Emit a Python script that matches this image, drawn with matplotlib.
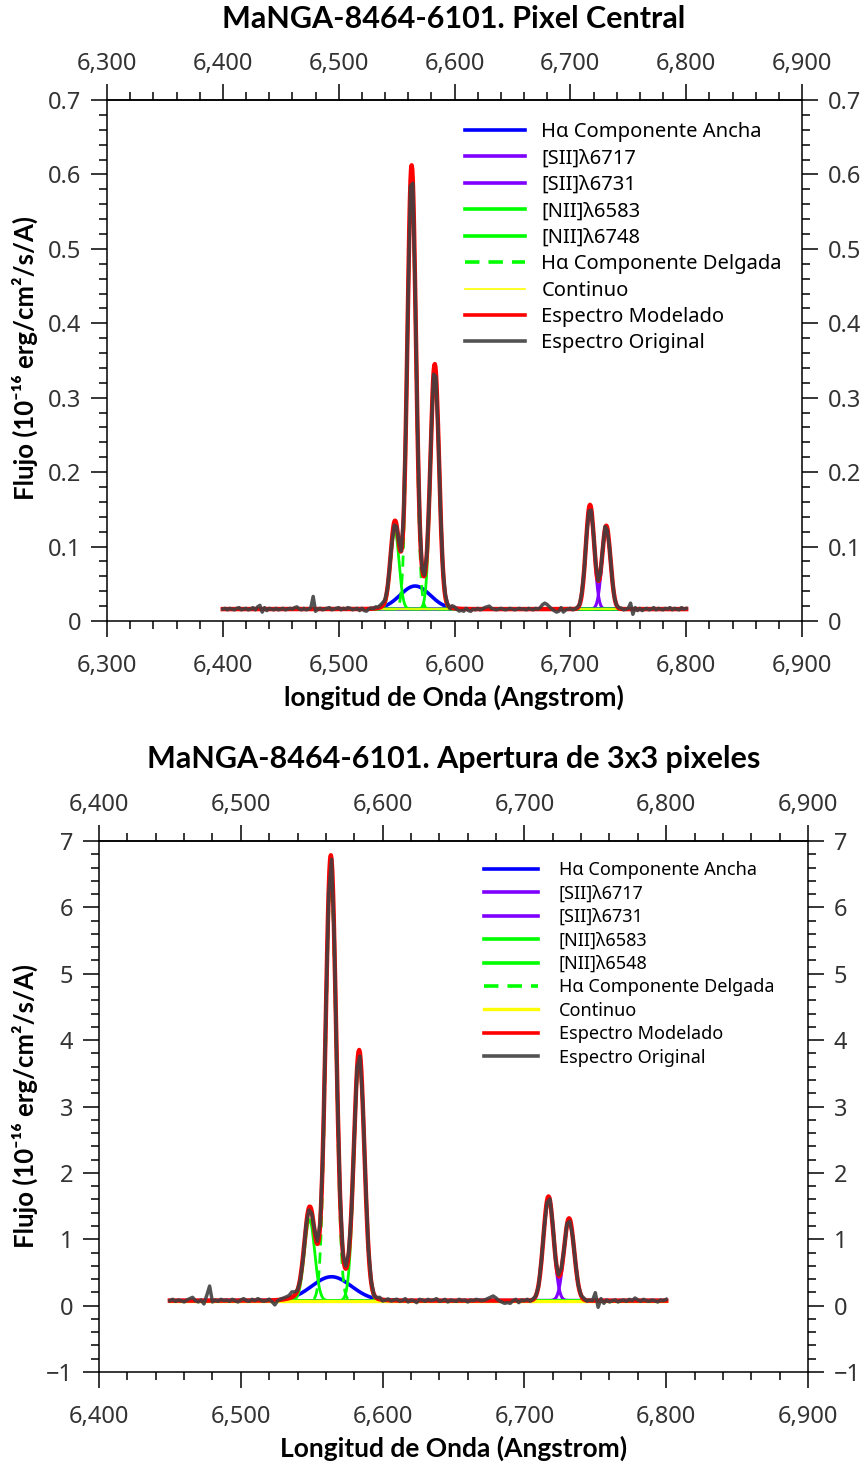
import numpy as np
import matplotlib
matplotlib.use("Agg")
import matplotlib.pyplot as plt
from matplotlib.ticker import FixedLocator, MultipleLocator, FuncFormatter

plt.rcParams['font.family'] = ['Noto Sans', 'DejaVu Sans']
plt.rcParams['axes.unicode_minus'] = True
BOLD_FAMILY = ['Lato', 'DejaVu Sans']

# ---------------- fitted line parameters ----------------
# order: broad Halpha, [SII]6717, [SII]6731, [NII]6583, [NII]6548, narrow Halpha
top_centres = [6566.0, 6717.0, 6731.0, 6583.0, 6548.5, 6563.0]
top_amps = [0.031, 0.140, 0.112, 0.316, 0.106, 0.566]
top_sigmas = [13.0, 3.6, 3.6, 3.6, 3.6, 3.6]
top_continuum = 0.016
top_range = [6400, 6800]

bot_centres = [6564.0, 6717.0, 6731.5, 6583.5, 6548.5, 6563.5]
bot_amps = [0.36, 1.57, 1.24, 3.64, 1.22, 6.35]
bot_sigmas = [14.0, 3.6, 3.6, 3.6, 3.6, 3.6]
bot_continuum = 0.075
bot_range = [6450, 6800]

# observed-minus-model residuals on a 2 A grid
# central pixel, units of 1e-3
top_resid_milli = [
    0, 1, -1, 1, 0, -1, 1, 2, -1, 0,
    1, -1, 0, 2, -1, 3, 5, -4, 2, -2,
    1, 0, -1, 1, -1, 0, 1, -1, 0, 1,
    0, 2, 3, 0, -1, 1, -1, 0, 2, 17,
    -3, 0, 1, -1, 0, 1, 2, -1, 0, 1,
    2, -1, 1, 0, 2, 1, -1, 0, 1, -2,
    1, -2, -3, 0, 1, 0, 2, 1, 3, 4,
    2, 0, 0, -3, -4, -2, 2, 0, 3, 0,
    -4, -6, -3, 2, 4, 0, -2, 1, 0, -2,
    0, -3, -4, 0, 2, 0, 2, 1, -2, 3,
    2, -1, -3, -2, -3, 1, -2, -3, 0, -1,
    1, -1, 0, 2, 3, 4, 1, 0, -1, 0,
    1, 0, -1, 0, 1, 0, -1, 0, 1, 0,
    0, -1, 1, 0, -1, 1, 0, 2, 6, 8,
    6, 3, 0, -2, -4, -3, 2, -4, -1, 0,
    1, -1, 0, 1, 0, 2, -1, 0, -3, -2,
    1, 2, 0, -1, 2, 3, -2, 1, 0, -1,
    0, 1, 1, -1, 0, 1, 8, -7, 2, -2,
    1, -2, 0, 1, -1, 0, 2, -1, 1, 0,
    -1, 1, 0, 2, -1, 1, 0, -1, 2, 0,
    1,
]

# 3x3 aperture, units of 1e-2
bot_resid_centi = [
    0, 2, -1, 1, 0, -2, 1, 3, 5, 0,
    -2, 1, -5, 8, 22, -2, 1, -1, 2, 0,
    1, -1, 2, 0, -2, 1, 3, 0, -1, 2,
    0, 3, 1, -1, 0, 2, -2, -7, -1, 1,
    2, 3, 4, 8, 5, 0, -3, -4, 2, -3,
    -3, 2, 4, 0, -5, 3, -4, 0, 5, -3,
    2, -2, 4, 3, -3, 0, 2, -5, 3, 4,
    0, 2, -1, 1, 3, -2, 0, 2, -1, 1,
    2, -1, 0, 3, -2, 1, 0, -3, 2, 1,
    -1, 2, 0, 1, 3, -1, 0, 2, -2, 1,
    0, -1, 2, 0, 1, -2, 1, 0, 2, 1,
    0, 1, 3, 5, 7, 4, 0, -2, -4, -3,
    -4, 0, 2, -3, 1, 0, 2, -1, 1, 0,
    -2, 1, 0, -3, 2, 4, -2, 1, 3, -1,
    2, -3, 0, 1, -1, 0, 2, -1, 1, 0,
    12, -10, 3, -4, 1, -2, 0, 1, -2, 0,
    1, -1, 2, 0, 4, 1, -1, 2, 0, -1,
    1, 0, -2, 1, 0, 2,
]

top_xticks = [6300, 6400, 6500, 6600, 6700, 6800, 6900]
bot_xticks = [6400, 6500, 6600, 6700, 6800, 6900]

top_labels = ["Hα Componente Ancha", "[SII]λ6717", "[SII]λ6731", "[NII]λ6583",
              "[NII]λ6748", "Hα Componente Delgada", "Continuo",
              "Espectro Modelado", "Espectro Original"]
bot_labels = ["Hα Componente Ancha", "[SII]λ6717", "[SII]λ6731", "[NII]λ6583",
              "[NII]λ6548", "Hα Componente Delgada", "Continuo",
              "Espectro Modelado", "Espectro Original"]

TITLE_TOP = "MaNGA-8464-6101. Pixel Central"
TITLE_BOT = "MaNGA-8464-6101. Apertura de 3x3 pixeles"
YLABEL = "Flujo (10⁻¹⁶ erg/cm²/s/A)"

# ---------------- styling ----------------
BLUE = "#0000ff"
PURPLE = "#7f00ff"
GREEN = "#00ff00"
YELLOW = "#ffff00"
RED = "#ff0000"
GREY = "#404040"
TICK_COLOR = "#333333"


def gauss(x, amp, mu, sig):
    return amp * np.exp(-0.5 * ((x - mu) / sig) ** 2)


def draw_panel(ax, centres, amps, sigmas, cont, wl_range, resid, resid_scale,
               labels, yellow_lw, legend_size, legend_anchor, textpad, spacing):
    x = np.arange(wl_range[0], wl_range[1] + 0.25, 0.5)
    comps = [cont + gauss(x, a, m, s) for a, m, s in zip(amps, centres, sigmas)]
    model = cont + sum(gauss(x, a, m, s) for a, m, s in zip(amps, centres, sigmas))

    xo = np.arange(wl_range[0], wl_range[1] + 1, 2.0)
    model_o = cont + sum(gauss(xo, a, m, s) for a, m, s in zip(amps, centres, sigmas))
    observed = model_o + np.array(resid) * resid_scale

    styles = [(BLUE, 2.6), (PURPLE, 2.2), (PURPLE, 2.2),
              (GREEN, 2.0), (GREEN, 2.0), (GREEN, 2.0)]
    handles = []
    for i, (comp, (c, lw)) in enumerate(zip(comps, styles)):
        if i == 5:
            h, = ax.plot(x, comp, color=c, lw=lw, ls=(0, (4, 2.5)))
        else:
            h, = ax.plot(x, comp, color=c, lw=lw)
        handles.append(h)
    h, = ax.plot(x, np.full_like(x, cont), color=YELLOW, lw=yellow_lw)
    handles.append(h)
    h, = ax.plot(x, model, color=RED, lw=3.2)
    handles.append(h)
    h, = ax.plot(xo, observed, color=GREY, lw=2.5, alpha=0.9)
    handles.append(h)

    leg = ax.legend(handles, labels, loc='upper left', bbox_to_anchor=legend_anchor,
                    frameon=False, fontsize=legend_size, handlelength=3.0,
                    handletextpad=textpad, labelspacing=spacing, borderpad=0,
                    borderaxespad=0)
    for lh in leg.get_lines():
        if lh.get_color() != YELLOW:
            lh.set_linewidth(2.6)


def thousands(v, p):
    return f"{v:,.0f}"


def minor_between(majors, step=20):
    return [v for v in range(majors[0], majors[-1] + 1, step) if v not in majors]


def style_axes(ax, xticks, ymajor, yminor, yfmt):
    ax.xaxis.set_major_locator(FixedLocator(xticks))
    ax.xaxis.set_minor_locator(FixedLocator(minor_between(xticks)))
    ax.yaxis.set_major_locator(MultipleLocator(ymajor))
    ax.yaxis.set_minor_locator(MultipleLocator(yminor))
    ax.xaxis.set_major_formatter(FuncFormatter(thousands))
    ax.yaxis.set_major_formatter(FuncFormatter(yfmt))
    ax.tick_params(which='both', direction='out', top=False, right=True,
                   labeltop=False, labelright=True, width=1.1,
                   colors='black', labelcolor=TICK_COLOR)
    ax.tick_params(which='major', length=11.5, labelsize=17)
    ax.tick_params(axis='x', which='major', pad=12.5)
    ax.tick_params(axis='y', which='major', pad=7)
    ax.tick_params(which='minor', length=6)
    for sp in ax.spines.values():
        sp.set_linewidth(1.1)

    # wavelength scale repeated along the top edge
    top = ax.secondary_xaxis('top')
    top.xaxis.set_major_locator(FixedLocator(xticks))
    top.xaxis.set_minor_locator(FixedLocator(minor_between(xticks)))
    top.xaxis.set_major_formatter(FuncFormatter(thousands))
    top.tick_params(which='both', direction='out', width=1.1, colors='black',
                    labelcolor=TICK_COLOR)
    top.tick_params(which='major', length=11.5, labelsize=17, pad=6)
    top.tick_params(which='minor', length=6)
    top.spines['top'].set_linewidth(1.1)


W, H = 867, 1467
fig = plt.figure(figsize=(W / 100, H / 100), dpi=100)

# top panel
ax1 = fig.add_axes([107 / W, 1 - 621 / H, 695 / W, 521 / H])
draw_panel(ax1, top_centres, top_amps, top_sigmas, top_continuum, top_range,
           top_resid_milli, 1e-3, top_labels, 1.2, 14.5, (0.515, 0.958), 0.8, 0.32)
ax1.set_xlim(6300, 6900)
ax1.set_ylim(0, 0.7)
style_axes(ax1, top_xticks, 0.1, 0.02,
           lambda v, p: "0" if abs(v) < 1e-9 else f"{v:.1f}")

# bottom panel
ax2 = fig.add_axes([99 / W, 1 - 1372 / H, 709 / W, 531 / H])
draw_panel(ax2, bot_centres, bot_amps, bot_sigmas, bot_continuum, bot_range,
           bot_resid_centi, 1e-2, bot_labels, 2.4, 13, (0.543, 0.962), 1.15, 0.30)
ax2.set_xlim(6400, 6900)
ax2.set_ylim(-1, 7)
style_axes(ax2, bot_xticks, 1, 0.2,
           lambda v, p: f"{v:.0f}".replace("-", "\u2212"))

# titles and axis labels
bold = dict(fontweight='bold', family=BOLD_FAMILY)
fig.text(454 / W, 1 - 19 / H, TITLE_TOP, ha='center', va='center',
         fontsize=22, **bold)
fig.text(454 / W, 1 - 759 / H, TITLE_BOT, ha='center', va='center',
         fontsize=22, **bold)
fig.text(454 / W, 1 - 697 / H, "longitud de Onda (Angstrom)", ha='center',
         va='center', fontsize=19, **bold)
fig.text(454 / W, 1 - 1448 / H, "Longitud de Onda (Angstrom)", ha='center',
         va='center', fontsize=19, **bold)
fig.text(25 / W, 1 - 358 / H, YLABEL, ha='center', va='center', rotation=90,
         fontsize=18.5, **bold)
fig.text(25 / W, 1 - 1106 / H, YLABEL, ha='center', va='center', rotation=90,
         fontsize=18.5, **bold)

fig.savefig("out.png", dpi=100)
